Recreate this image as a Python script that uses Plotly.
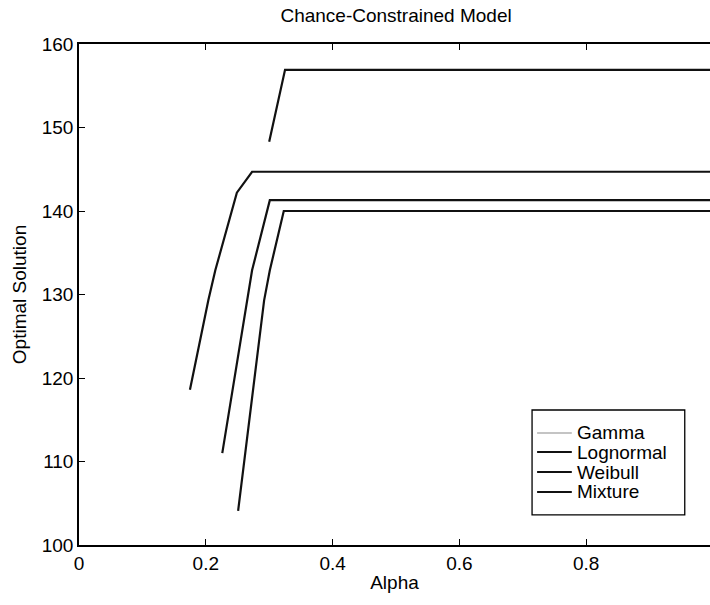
import plotly.graph_objects as go

# ---- data ----
series_names = ["Gamma", "Lognormal", "Weibull", "Mixture"]

gamma_alpha = [0.300, 0.325, 1.0]
gamma_value = [148.3, 156.9, 156.9]

lognormal_alpha = [0.175, 0.204, 0.215, 0.249, 0.273, 1.0]
lognormal_value = [118.6, 129.3, 132.9, 142.2, 144.7, 144.7]

weibull_alpha = [0.226, 0.265, 0.273, 0.301, 1.0]
weibull_value = [111.0, 129.3, 132.9, 141.3, 141.3]

mixture_alpha = [0.251, 0.292, 0.301, 0.323, 1.0]
mixture_value = [104.1, 129.3, 132.9, 140.0, 140.0]

x_ticks = [0, 0.2, 0.4, 0.6, 0.8, 1.0]
y_ticks = [100, 110, 120, 130, 140, 150, 160]

series = [
    (series_names[0], gamma_alpha, gamma_value),
    (series_names[1], lognormal_alpha, lognormal_value),
    (series_names[2], weibull_alpha, weibull_value),
    (series_names[3], mixture_alpha, mixture_value),
]
line_colors = ["#111111", "#111111", "#111111", "#111111"]
legend_colors = ["#8a8a8a", "#111111", "#111111", "#111111"]
legend_widths = [1.2, 2, 2, 2]

FONT = "Liberation Sans, Arial, sans-serif"

fig = go.Figure()
for (name, xs, ys), col in zip(series, line_colors):
    fig.add_trace(go.Scatter(x=xs, y=ys, mode="lines", name=name,
                             line=dict(color=col, width=2.2), showlegend=False))

# ---- manual legend (box, sample lines, labels) ----
box_x0, box_x1 = 0.718, 0.960
box_y0, box_y1 = 0.060, 0.2695
fig.add_shape(type="rect", xref="paper", yref="paper",
              x0=box_x0, x1=box_x1, y0=box_y0, y1=box_y1,
              line=dict(color="black", width=1.3), fillcolor="white", layer="above")
entry_y = [0.2236, 0.1856, 0.1457, 0.1058]
for name, yy, col, w in zip(series_names, entry_y, legend_colors, legend_widths):
    fig.add_shape(type="line", xref="paper", yref="paper",
                  x0=0.726, x1=0.781, y0=yy, y1=yy,
                  line=dict(color=col, width=w), layer="above")
    fig.add_annotation(xref="paper", yref="paper", x=0.786, y=yy,
                       text=name, showarrow=False, xanchor="left", yanchor="middle",
                       font=dict(family=FONT, size=19, color="black"))

fig.update_layout(
    width=710, height=605,
    margin=dict(l=79, r=0, t=44, b=60),
    paper_bgcolor="white", plot_bgcolor="white",
    font=dict(family=FONT, size=19, color="black"),
    title=dict(text="Chance-Constrained Model", x=0.5025, xref="paper",
               xanchor="center", y=1 - 15 / 605, yref="container", yanchor="middle",
               font=dict(family=FONT, size=19, color="black")),
    xaxis=dict(range=[0, 0.9953], tickvals=x_ticks, showgrid=False, zeroline=False,
               showline=True, linecolor="black", linewidth=1.5, mirror="ticks",
               ticks="inside", ticklen=6, tickcolor="black", tickwidth=1.2,
               title=dict(text="Alpha", standoff=3, font=dict(size=19)),
               tickfont=dict(size=19)),
    yaxis=dict(range=[100, 160], tickvals=y_ticks, showgrid=False, zeroline=False,
               showline=True, linecolor="black", linewidth=1.5,
               ticks="inside", ticklen=6, tickcolor="black", tickwidth=1.2,
               title=dict(text="Optimal Solution", standoff=10, font=dict(size=19)),
               tickfont=dict(size=19)),
)

fig.write_html("out.html")
